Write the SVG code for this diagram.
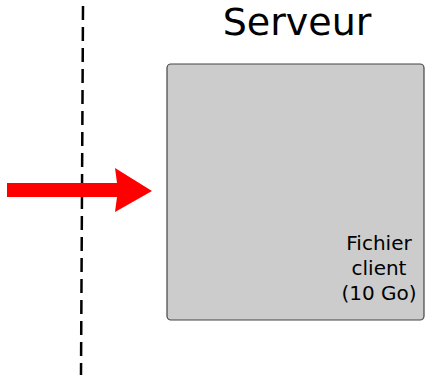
<svg xmlns="http://www.w3.org/2000/svg" width="425" height="375" viewBox="0 0 425 375">
<style>
text{font-family:"DejaVu Sans",sans-serif;fill:#000}
.t{font-size:38px}
.l{font-size:20px}
</style>
<rect width="425" height="375" fill="#fff"/>
<g id="connectors">
<line x1="83" y1="6" x2="81" y2="375" stroke="#000" stroke-width="2.5" stroke-dasharray="14,7"/>
</g>
<g id="title"><text class="t" x="297" y="35" text-anchor="middle">Serveur</text></g>
<g id="serveur">
<rect x="167" y="64" width="257" height="256" rx="4" fill="#cccccc" stroke="#444" stroke-width="1.2"/>
<text class="l" text-anchor="middle"><tspan x="379" y="250">Fichier</tspan><tspan x="379" y="275">client</tspan><tspan x="379" y="300">(10 Go)</tspan></text>
</g>
<g id="arrow">
<polygon points="7,183 117,183 115,168 152,191 115,212 117,197 7,197" fill="#ff0000"/>
</g>
</svg>
